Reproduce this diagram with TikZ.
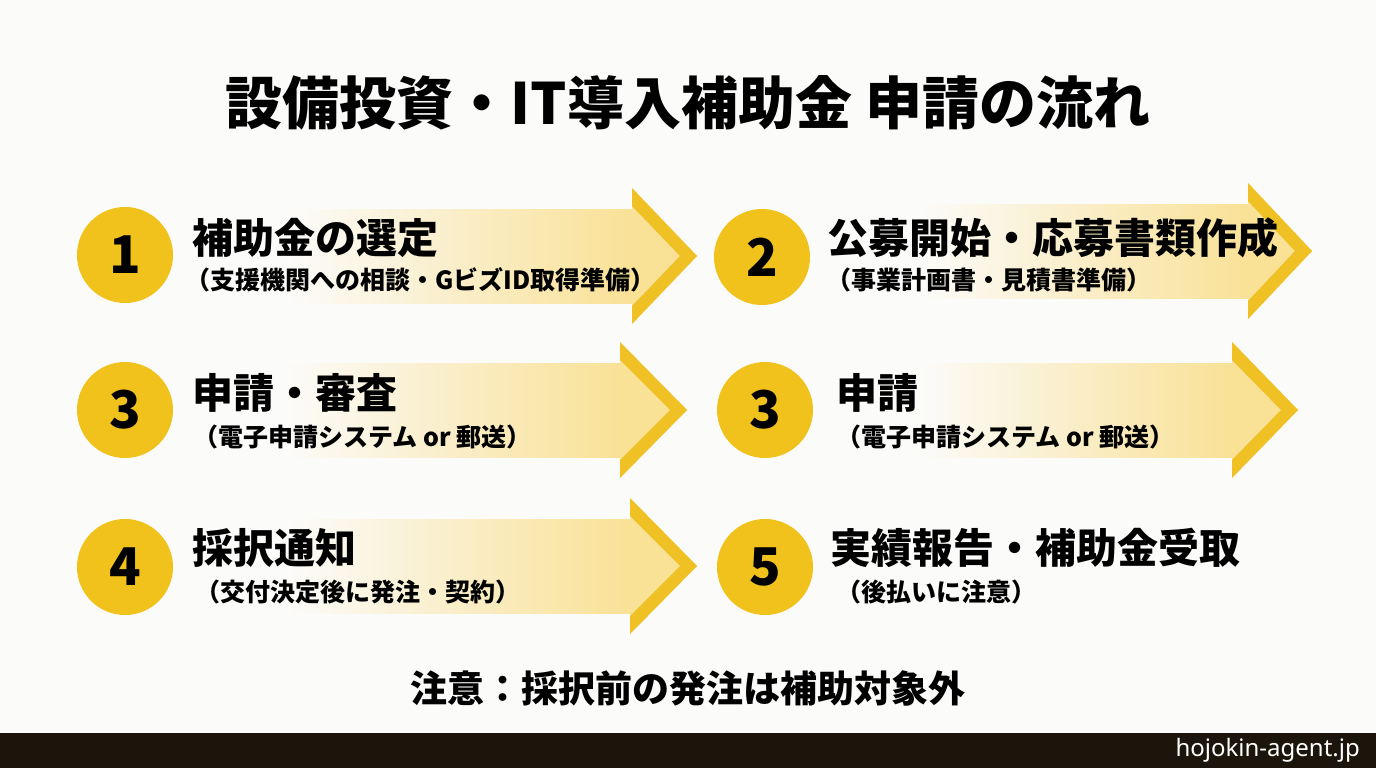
\documentclass[tikz,border=0pt]{standalone}
\usepackage{fontspec}
\setmainfont{Noto Sans CJK JP}
\newfontfamily\sitefont{Noto Sans}
\usepackage{tikz}
\usetikzlibrary{calc}
\definecolor{bgwhite}{HTML}{FBFBFA}
\definecolor{goldcircle}{HTML}{F1C21C}
\definecolor{goldedge}{HTML}{EFC125}
\definecolor{paleyellow}{HTML}{F9E196}
\definecolor{footbar}{HTML}{1C150B}
\pgfdeclarehorizontalshading{arrowfade}{100bp}{color(0bp)=(bgwhite); color(25bp)=(bgwhite);
  color(38bp)=(bgwhite); color(75bp)=(paleyellow); color(100bp)=(paleyellow)}

\begin{document}
\begin{tikzpicture}[x=1pt,y=-1pt,
    numcircle/.style={circle,fill=goldcircle,minimum size=96pt,inner sep=0pt,
      font=\fontsize{52}{52}\selectfont\bfseries},
    steptitle/.style={anchor=west,inner sep=0pt,font=\fontsize{41}{41}\selectfont\bfseries},
    stepnote/.style={anchor=west,inner sep=0pt,font=\fontsize{25}{25}\selectfont\bfseries}]

    % Background of the slide
    \fill[bgwhite] (0,0) rectangle (1376,768);

    % Arrows behind the steps: start x / head base x / tip x / middle y
    \foreach \bx/\hx/\tx/\cy in {125/632/697/256,762/1248/1312/251,125/620/687/410,
                                 765/1232/1298/410,125/630/697/566}{
      \shade[shading=arrowfade] (\bx+40,\cy-47) rectangle (\hx,\cy+47);
      \fill[paleyellow] (\hx,\cy-68)--(\tx,\cy)--(\hx,\cy+68)--cycle;
      \fill[goldedge] (\hx,\cy-68)--(\tx,\cy)--(\hx,\cy+68)--(\hx,\cy+50)--(\tx-17,\cy)--(\hx,\cy-50)--cycle;
    }

    % Title
    \node[font=\fontsize{57}{57}\selectfont\bfseries] (title) at (688,103) {設備投資・IT導入補助金 申請の流れ};

    % Numbered circles
    \node[numcircle] (c1) at (125,255) {1};
    \node[numcircle] (c2) at (762,257) {2};
    \node[numcircle] (c3) at (125,410) {3};
    \node[numcircle] (c3b) at (765,410) {3};
    \node[numcircle] (c4) at (125,567) {4};
    \node[numcircle] (c5) at (765,567) {5};

    % Step texts
    \node[steptitle] (t1) at (192,238) {補助金の選定};
    \node[stepnote] (n1) at (185,280) {（支援機関への相談・GビズID取得準備）};
    \node[steptitle] (t2) at (827,238) {公募開始・応募書類作成};
    \node[stepnote] (n2) at (826,280) {（事業計画書・見積書準備）};
    \node[steptitle] (t3) at (192,393) {申請・審査};
    \node[stepnote] (n3) at (193,437) {（電子申請システム or 郵送）};
    \node[steptitle] (t3b) at (836,393) {申請};
    \node[stepnote] (n3b) at (836,437) {（電子申請システム or 郵送）};
    \node[steptitle] (t4) at (192,548) {採択通知};
    \node[stepnote] (n4) at (195,592) {（交付決定後に発注・契約）};
    \node[steptitle] (t5) at (830,548) {実績報告・補助金受取};
    \node[stepnote] (n5) at (836,592) {（後払いに注意）};

    % Caution line
    \node[font=\fontsize{37}{37}\selectfont\bfseries] (caution) at (688,688) {注意：採択前の発注は補助対象外};

    % Footer bar
    \fill[footbar] (0,733) rectangle (1376,768);
    \node[anchor=east,inner sep=0pt,text=white,font=\sitefont\fontsize{24}{24}\selectfont] (site) at (1360,750) {hojokin-agent.jp};

\end{tikzpicture}
\end{document}
